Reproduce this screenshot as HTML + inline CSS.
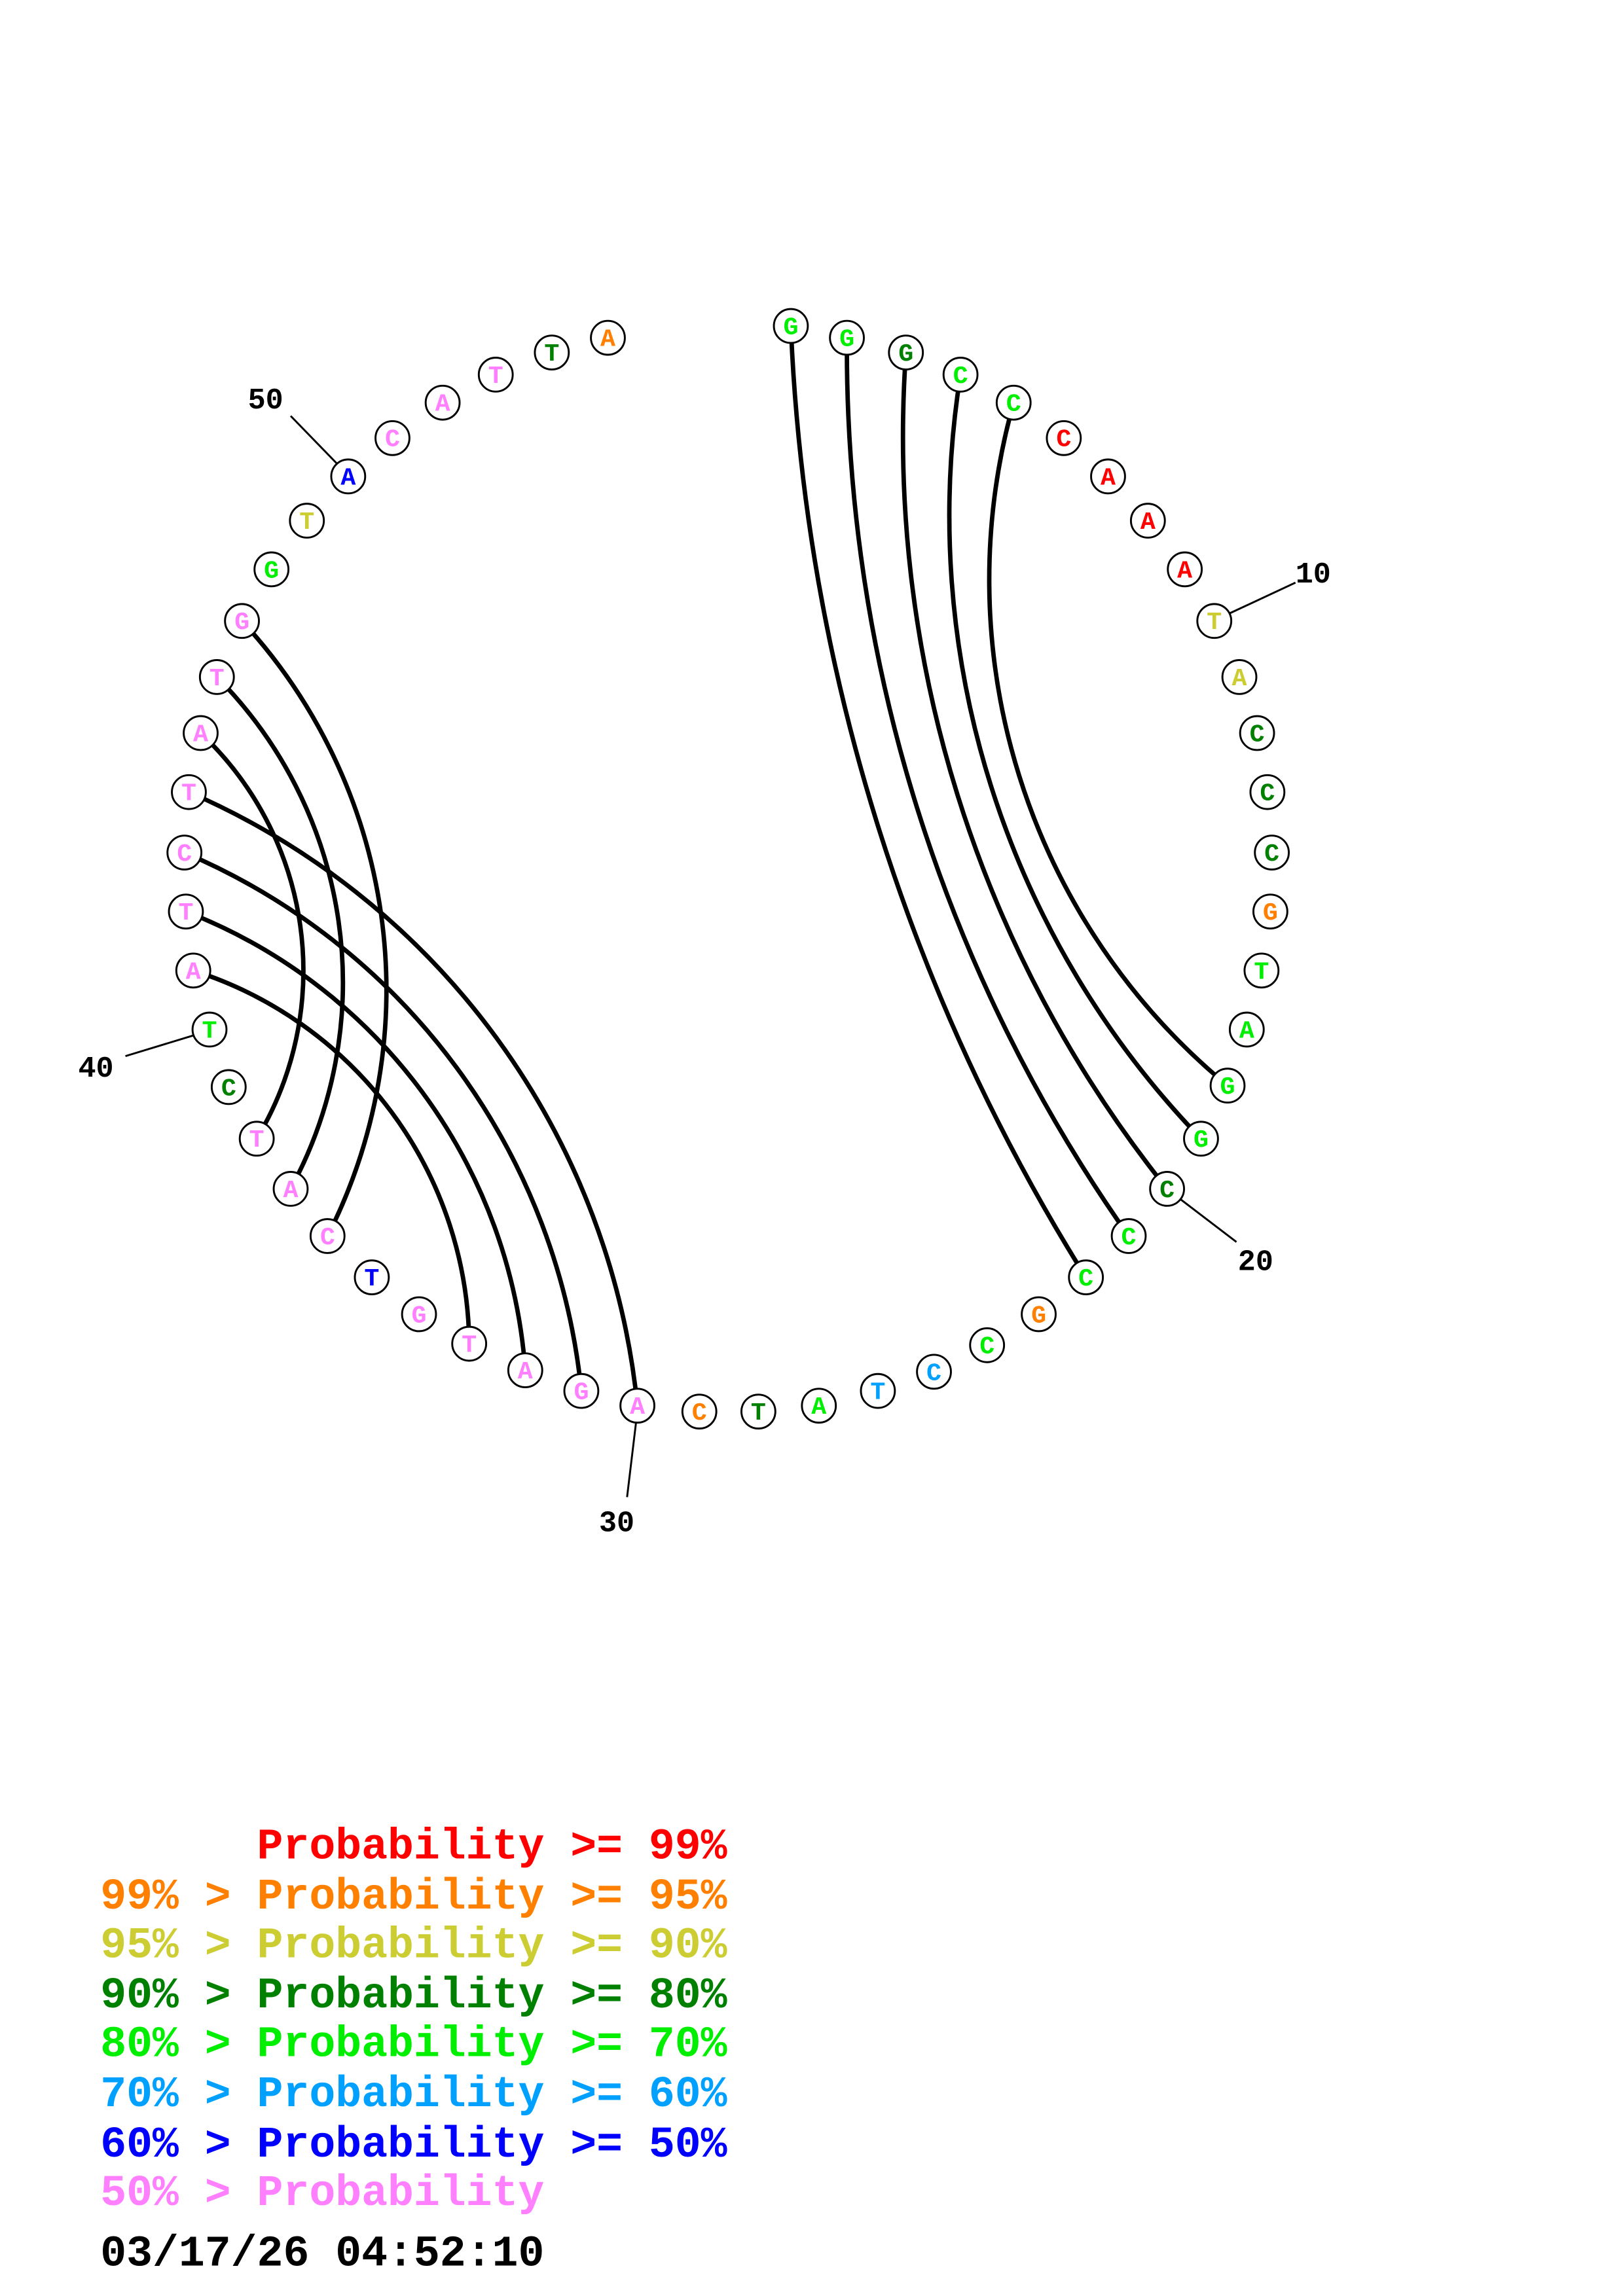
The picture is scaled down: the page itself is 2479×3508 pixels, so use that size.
<!DOCTYPE html>
<html><head><meta charset="utf-8"><style>
html,body{margin:0;padding:0;background:#fff}
svg{display:block}
text{font-family:"Liberation Mono",monospace;font-weight:bold}
</style></head><body>
<svg id="s" width="2479" height="3508" viewBox="0 0 1100 1556.6" preserveAspectRatio="none" xmlns="http://www.w3.org/2000/svg">
<rect width="1100" height="1556.6" fill="#fff"/>
<g id="arcs" fill="none" stroke="#000" stroke-width="3"></g>
<g stroke="#000" stroke-width="1.3">
<line x1="197" y1="282" x2="230" y2="316"/>
<line x1="878" y1="395" x2="833" y2="416"/>
<line x1="838" y1="842" x2="800" y2="813"/>
<line x1="425" y1="1015" x2="431" y2="965"/>
<line x1="85" y1="716" x2="131" y2="702"/>
</g>
<g font-size="20" fill="#000">
<text x="168" y="277">50</text>
<text x="878" y="395">10</text>
<text x="839" y="861">20</text>
<text x="406" y="1038">30</text>
<text x="53" y="730">40</text>
</g>
<g id="nts"></g>
<g font-size="29.5">
<text x="68" y="1260" fill="#ff0000" xml:space="preserve">      Probability &gt;= 99%</text>
<text x="68" y="1294" fill="#ff8000" xml:space="preserve">99% &gt; Probability &gt;= 95%</text>
<text x="68" y="1327" fill="#cccc33" xml:space="preserve">95% &gt; Probability &gt;= 90%</text>
<text x="68" y="1361" fill="#008000" xml:space="preserve">90% &gt; Probability &gt;= 80%</text>
<text x="68" y="1394" fill="#00ee00" xml:space="preserve">80% &gt; Probability &gt;= 70%</text>
<text x="68" y="1428" fill="#00a0ff" xml:space="preserve">70% &gt; Probability &gt;= 60%</text>
<text x="68" y="1462" fill="#0000ff" xml:space="preserve">60% &gt; Probability &gt;= 50%</text>
<text x="68" y="1495" fill="#ff80ff" xml:space="preserve">50% &gt; Probability</text>
<text x="68" y="1536" fill="#000">03/17/26 04:52:10</text>
</g>
</svg>
<script>
var P=[[536,221],[574,229],[614,239],[651,254],[687,273],[721,297],[751,323],[778,353],[803,386],[823,421],[840,459],[852,497],[859,537],[862,578],[861,618],[855,658],[845,698],[832,736],[814,772],[791,806],[765,838],[736,866],[704,891],[669,912],[633,930],[595,943],[555,953],[514,957],[474,957],[432,953],[394,943],[356,929],[318,911],[284,891],[252,866],[222,838],[197,806],[174,772],[155,737],[142,698],[131,658],[126,618],[125,578],[128,537],[136,497],[147,459],[164,421],[184,386],[208,353],[236,323],[266,297],[300,273],[336,254],[374,239],[412,229]];
var S="GGGCCCAAATACCCGTAGGCCCGCCTATCAGATGTCATCTATCTATGGTACATTA";
var R="g g d g g r r r r y y d d d o g g g g d g g o g b b g d o p p p p p B p p p d g p p p p p p p g y B p p p d o".split(" ");
var col={g:"#00ee00",d:"#008000",r:"#ff0000",y:"#cccc33",o:"#ff8000",b:"#00a0ff",B:"#0000ff",p:"#ff80ff"};
var pairs=[[1,22,44],[2,21,50],[3,20,56],[4,19,64],[5,18,72],[36,47,66],[37,46,58],[38,45,49],[30,44,70],[31,43,62],[32,42,56],[33,41,51]];
var ns="http://www.w3.org/2000/svg";
var A=document.getElementById("arcs"),N=document.getElementById("nts");
pairs.forEach(function(p){var a=P[p[0]-1],b=P[p[1]-1],s=p[2];
var c=Math.hypot(b[0]-a[0],b[1]-a[1]);var r=c*c/(8*s)+s/2;
var e=document.createElementNS(ns,"path");e.setAttribute("d","M"+a[0]+" "+a[1]+" A"+r+" "+r+" 0 0 0 "+b[0]+" "+b[1]);A.appendChild(e);});
P.forEach(function(q,i){var c=document.createElementNS(ns,"circle");c.setAttribute("cx",q[0]);c.setAttribute("cy",q[1]);c.setAttribute("r",11.5);c.setAttribute("fill","#fff");c.setAttribute("stroke","#000");c.setAttribute("stroke-width","1.3");N.appendChild(c);
var t=document.createElementNS(ns,"text");t.setAttribute("x",q[0]);t.setAttribute("y",q[1]+5.5);t.setAttribute("text-anchor","middle");t.setAttribute("font-size","17");t.setAttribute("fill",col[R[i]]);t.textContent=S[i];N.appendChild(t);});
</script>
</body></html>
